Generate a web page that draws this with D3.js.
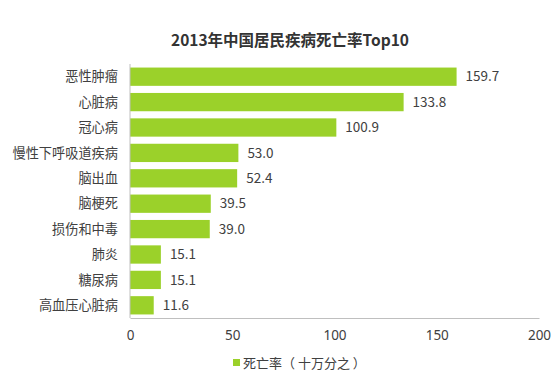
<!DOCTYPE html>
<html>
<head>
<meta charset="UTF-8">
<style>
    body { margin: 0; background: #fff; }
    text { font-family: "Noto Sans CJK SC", "Noto Sans", sans-serif; fill: #404040; }
    .title { font-weight: bold; font-size: 15.5px; fill: #333; }
    .axis path, .axis line { stroke: #bfbfbf; }
</style>
</head>
<body>
<script src="https://cdn.jsdelivr.net/npm/d3@7/dist/d3.min.js"></script>
<script>
var causes = ["恶性肿瘤", "心脏病", "冠心病", "慢性下呼吸道疾病", "脑出血", "脑梗死", "损伤和中毒", "肺炎", "糖尿病", "高血压心脏病"];
var rates = [159.7, 133.8, 100.9, 53.0, 52.4, 39.5, 39.0, 15.1, 15.1, 11.6];
var xTicks = [0, 50, 100, 150, 200];
var seriesName = "死亡率（ 十万分之 ）";

(function() {
    var width = 558, height = 388;
    var plotLeft = 130, plotRight = 539, plotTop = 64, plotBottom = 318;
    var green = "#9bd12a";

    var svg = d3.select("body").append("svg").attr("width", width).attr("height", height);

    svg.append("text").attr("class", "title")
        .attr("x", 290).attr("y", 46).attr("text-anchor", "middle")
        .text("2013年中国居民疾病死亡率Top10");

    var x = d3.scaleLinear().domain([0, 200]).range([plotLeft, plotRight]);
    var y = d3.scaleBand().domain(causes).range([plotTop, plotBottom]).paddingInner(0.28).paddingOuter(0.14);

    svg.selectAll("rect.bar")
        .data(rates)
        .enter().append("rect")
        .attr("class", "bar")
        .attr("x", x(0))
        .attr("y", function(d, i) { return y(causes[i]); })
        .attr("width", function(d) { return x(d) - x(0); })
        .attr("height", y.bandwidth())
        .attr("fill", green);

    svg.selectAll("text.val")
        .data(rates)
        .enter().append("text")
        .attr("class", "val")
        .attr("x", function(d) { return x(d) + 9; })
        .attr("y", function(d, i) { return y(causes[i]) + y.bandwidth() / 2; })
        .attr("dy", "0.35em")
        .style("font-size", "13.5px")
        .text(function(d) { return d.toFixed(1); });

    // y axis line + labels
    svg.append("line").attr("x1", plotLeft).attr("x2", plotLeft).attr("y1", plotTop).attr("y2", plotBottom)
        .attr("stroke", "#bfbfbf");
    svg.selectAll("text.cat")
        .data(causes)
        .enter().append("text")
        .attr("class", "cat")
        .attr("x", plotLeft - 12)
        .attr("y", function(d) { return y(d) + y.bandwidth() / 2; })
        .attr("dy", "0.35em")
        .attr("text-anchor", "end")
        .style("font-size", "13.2px")
        .text(function(d) { return d; });

    // x axis
    var xAxis = svg.append("g").attr("class", "axis")
        .attr("transform", "translate(0," + plotBottom + ")")
        .call(d3.axisBottom(x).tickValues(xTicks).tickSize(0).tickPadding(12));
    xAxis.selectAll("text").style("font-size", "13.5px").attr("fill", "#404040")
        .style("font-family", "'Noto Sans', sans-serif");
    xAxis.select(".domain").attr("stroke", "#bfbfbf");

    // legend
    svg.append("rect").attr("x", 233).attr("y", 359).attr("width", 7).attr("height", 7).attr("fill", green);
    svg.append("text").attr("x", 243).attr("y", 363).attr("dy", "0.35em")
        .style("font-size", "13px").text(seriesName);
})();
</script>
</body>
</html>
